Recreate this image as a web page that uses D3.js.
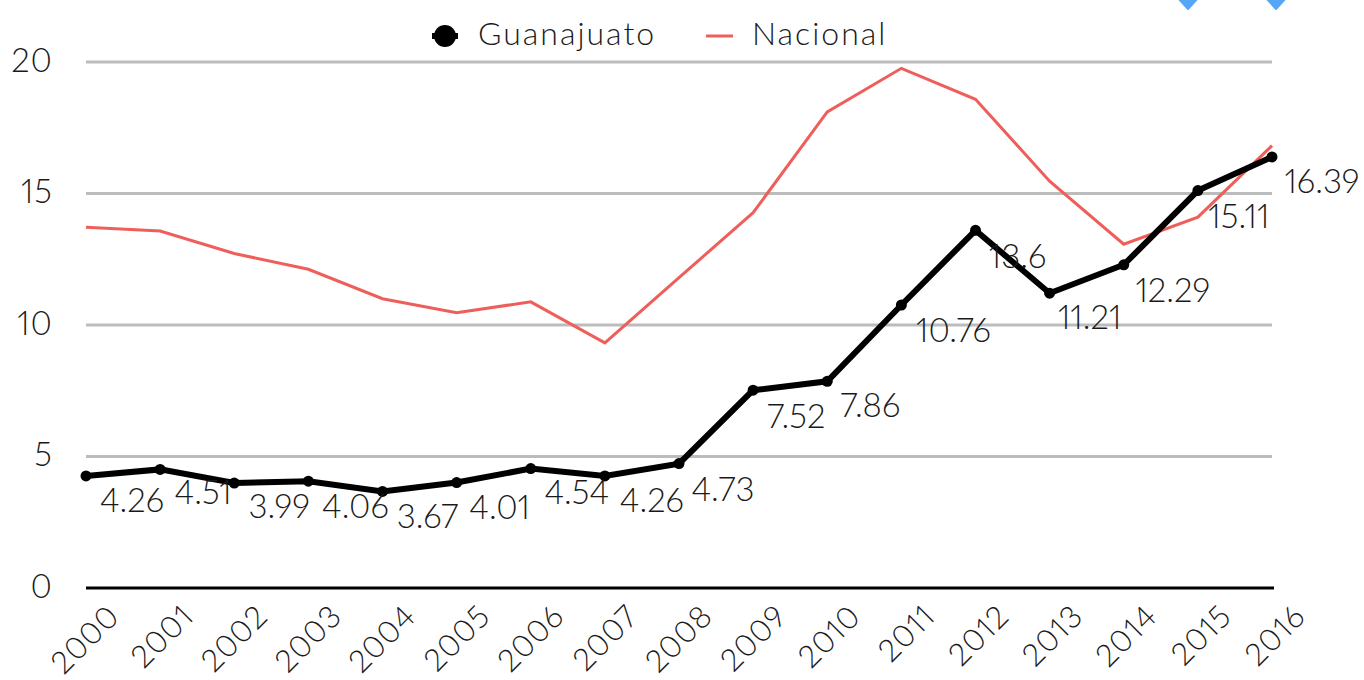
<!DOCTYPE html>
<html><head><meta charset="utf-8">
<script src="https://cdn.jsdelivr.net/npm/d3@7"></script>
<style>
html,body{margin:0;padding:0;background:#fff;overflow:hidden}
text{font-family:Lato,sans-serif;font-weight:300;fill:#1a1a1a;font-variant-numeric:proportional-nums;font-feature-settings:"pnum" 1}
</style></head><body>
<svg id="c" width="1364" height="680"></svg>
<script>
const years=["2000","2001","2002","2003","2004","2005","2006","2007","2008","2009","2010","2011","2012","2013","2014","2015","2016"];
const guanajuato=[4.26,4.51,3.99,4.06,3.67,4.01,4.54,4.26,4.73,7.52,7.86,10.76,13.6,11.21,12.29,15.11,16.39];
const nacional=[13.72,13.57,12.72,12.12,11.0,10.47,10.88,9.32,11.8,14.27,18.1,19.76,18.58,15.47,13.07,14.1,16.82];
const yTicks=[0,5,10,15,20];
const labelDx=[46,43,45,47,45,43,46,47,44,43,43,52,42,40,49,41,50];
const labelDy=[25,24,24,26,26,25,24,25,26,27,25,26,27,25,26,26,25];

const svg=d3.select("#c");
const x=d3.scalePoint().domain(years).range([86,1272]);
const y=d3.scaleLinear().domain([0,20]).range([588,62]);

svg.selectAll(".blue").data([1188,1276]).join("path")
  .attr("d",d=>`M${d-10},-2L${d},9L${d+10},-2Z`).attr("fill","#55a6f5")
  .attr("stroke","#55a6f5").attr("stroke-width",2).attr("stroke-linejoin","round");

const ya=svg.append("g").attr("transform","translate(86,0)")
  .call(d3.axisLeft(y).tickValues(yTicks).tickSize(0).tickPadding(33));
ya.select(".domain").remove();
ya.selectAll("text").style("font-size","33px").style("letter-spacing","1px").attr("dy","0.28em");
svg.append("g").selectAll("line").data(yTicks.filter(d=>d>0)).join("line")
  .attr("x1",86).attr("x2",1272).attr("y1",y).attr("y2",y)
  .attr("stroke","#bcbcbc").attr("stroke-width",3);

const xa=svg.append("g").attr("transform","translate(0,588)")
  .call(d3.axisBottom(x).tickSize(0).tickPadding(0));
xa.select(".domain").attr("stroke","#000").attr("stroke-width",3).attr("d","M86,0H1274");
xa.selectAll("text").style("font-size","31px").style("letter-spacing","1px").attr("text-anchor","end")
  .attr("dy",0).attr("y",0).attr("transform","translate(35,30) rotate(-45)");

const line=d3.line().x((d,i)=>x(years[i])).y(d=>y(d));
svg.append("path").datum(nacional).attr("d",line).attr("fill","none").attr("stroke","#ee5f5b").attr("stroke-width",3);
svg.append("path").datum(guanajuato).attr("d",line).attr("fill","none").attr("stroke","#000").attr("stroke-width",6);
svg.selectAll(".pt").data(guanajuato).join("circle").attr("cx",(d,i)=>x(years[i])).attr("cy",d=>y(d)).attr("r",5.5).attr("fill","#000");
svg.selectAll(".lab").data(guanajuato).join("text")
  .attr("x",(d,i)=>x(years[i])+labelDx[i]).attr("y",(d,i)=>y(d)+labelDy[i]+11)
  .attr("text-anchor","middle").style("font-size","33px").text(d=>d);

const leg=svg.append("g");
leg.append("line").attr("x1",432).attr("x2",458).attr("y1",36).attr("y2",36).attr("stroke","#000").attr("stroke-width",6);
leg.append("circle").attr("cx",445).attr("cy",36).attr("r",11).attr("fill","#000");
leg.append("text").attr("x",478).attr("y",45).style("font-size","32px").style("letter-spacing","2px").text("Guanajuato");
leg.append("line").attr("x1",706).attr("x2",733).attr("y1",36).attr("y2",36).attr("stroke","#ee5f5b").attr("stroke-width",3);
leg.append("text").attr("x",752).attr("y",45).style("font-size","32px").style("letter-spacing","2px").text("Nacional");
</script></body></html>
